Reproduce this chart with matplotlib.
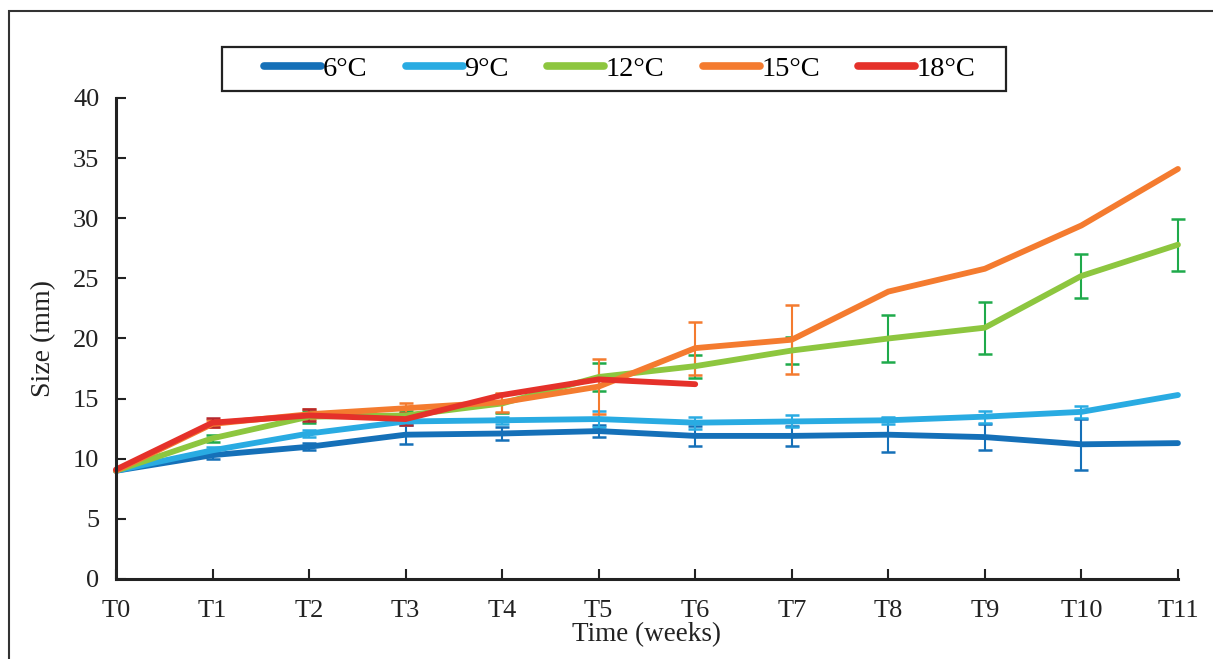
import matplotlib
matplotlib.use("Agg")
import matplotlib.pyplot as plt
from matplotlib.patches import Rectangle
import numpy as np

times = ["T0", "T1", "T2", "T3", "T4", "T5", "T6", "T7", "T8", "T9", "T10", "T11"]
labels = ["6°C", "9°C", "12°C", "15°C", "18°C"]

size_6 = [9.0, 10.3, 11.0, 12.0, 12.1, 12.3, 11.9, 11.9, 12.0, 11.8, 11.2, 11.3]
err_6 = [0.0, 0.3, 0.3, 0.8, 0.5, 0.5, 0.8, 0.8, 1.4, 1.1, 2.1, 0.0]
size_9 = [9.0, 10.7, 12.1, 13.1, 13.2, 13.3, 13.0, 13.1, 13.2, 13.5, 13.9, 15.3]
err_9 = [0.0, 0.3, 0.3, 0.3, 0.3, 0.7, 0.5, 0.5, 0.3, 0.5, 0.5, 0.0]
size_12 = [9.0, 11.7, 13.5, 13.6, 14.6, 16.8, 17.7, 19.0, 20.0, 20.9, 25.2, 27.8]
err_12 = [0.0, 0.3, 0.5, 0.4, 0.8, 1.2, 0.95, 1.1, 1.95, 2.15, 1.85, 2.15]
size_15 = [9.0, 12.9, 13.7, 14.2, 14.7, 16.0, 19.2, 19.9, 23.9, 25.8, 29.4, 34.1]
err_15 = [0.0, 0.3, 0.4, 0.4, 0.8, 2.3, 2.2, 2.85, 0.0, 0.0, 0.0, 0.0]
size_18 = [9.1, 13.0, 13.6, 13.3, 15.3, 16.6, 16.2]
err_18 = [0.0, 0.4, 0.5, 0.5, 0.0, 0.0, 0.0]

series = [
    (size_6, err_6, "#1570B8", "#1570B8"),
    (size_9, err_9, "#29ABE2", "#29ABE2"),
    (size_12, err_12, "#8DC63F", "#1FAA4B"),
    (size_15, err_15, "#F47B2F", "#F47B2F"),
    (size_18, err_18, "#E5312A", "#B5272D"),
]

plt.rcParams["font.family"] = ["Liberation Serif", "DejaVu Serif"]

W, H = 1213, 659
fig = plt.figure(figsize=(W / 100, H / 100), dpi=100)
ax = fig.add_axes([0.0956, 0.1214, 0.8755, 0.7299])

x_all = np.arange(len(times))
handles = []
for (vals, errs, col, ecol), lab in zip(series, labels):
    x = x_all[:len(vals)]
    v = np.array(vals)
    e = np.array(errs)
    mask = e > 0
    eb = ax.errorbar(x[mask], v[mask], yerr=e[mask], fmt="none", ecolor=ecol,
                     elinewidth=1.5, capsize=5, capthick=1.8, zorder=2)
    for art in eb.lines[1] + eb.lines[2]:
        art.set_clip_on(False)
    h, = ax.plot(x, v, color=col, lw=4.2, solid_capstyle="round",
                 solid_joinstyle="miter", zorder=3, label=lab, clip_on=False)
    handles.append(h)

ax.set_xlim(0, 11)
ax.set_ylim(0, 40)
ax.set_yticks(np.arange(0, 41, 5))
ax.set_xticks(x_all)
ax.set_xticklabels(times)
ax.tick_params(axis="both", direction="in", length=7, width=1.5, labelsize=19,
               colors="#222222")
ax.tick_params(axis="x", pad=15)
ax.tick_params(axis="y", pad=12)
for s in ["top", "right"]:
    ax.spines[s].set_visible(False)
for s in ["left", "bottom"]:
    ax.spines[s].set_linewidth(2.2)
    ax.spines[s].set_color("#222222")
    ax.spines[s].set_zorder(5)

ax.set_xlabel("Time (weeks)", fontsize=19.5, color="#222222", labelpad=0)
ax.set_ylabel("Size (mm)", fontsize=20, color="#222222", labelpad=12)

leg = fig.legend(handles=handles, labels=labels, loc="center",
                 bbox_to_anchor=(620 / W, 1 - 69 / H), ncol=5, fontsize=20.5,
                 frameon=False, handlelength=2.0, handletextpad=0.05,
                 columnspacing=1.35, borderpad=0.3, borderaxespad=0)
for lh in leg.get_lines():
    lh.set_linewidth(5.5)

# legend frame
fig.patches.append(Rectangle((222 / W, 1 - 91 / H), (1006 - 222) / W, 44 / H,
                             transform=fig.transFigure, fill=False,
                             edgecolor="#222222", linewidth=1.6))
# outer border
fig.patches.append(Rectangle((0.0075, -0.05), 1.1, 1.033, transform=fig.transFigure,
                             fill=False, edgecolor="#333333", linewidth=1.5))

fig.savefig("out.png", dpi=100)
